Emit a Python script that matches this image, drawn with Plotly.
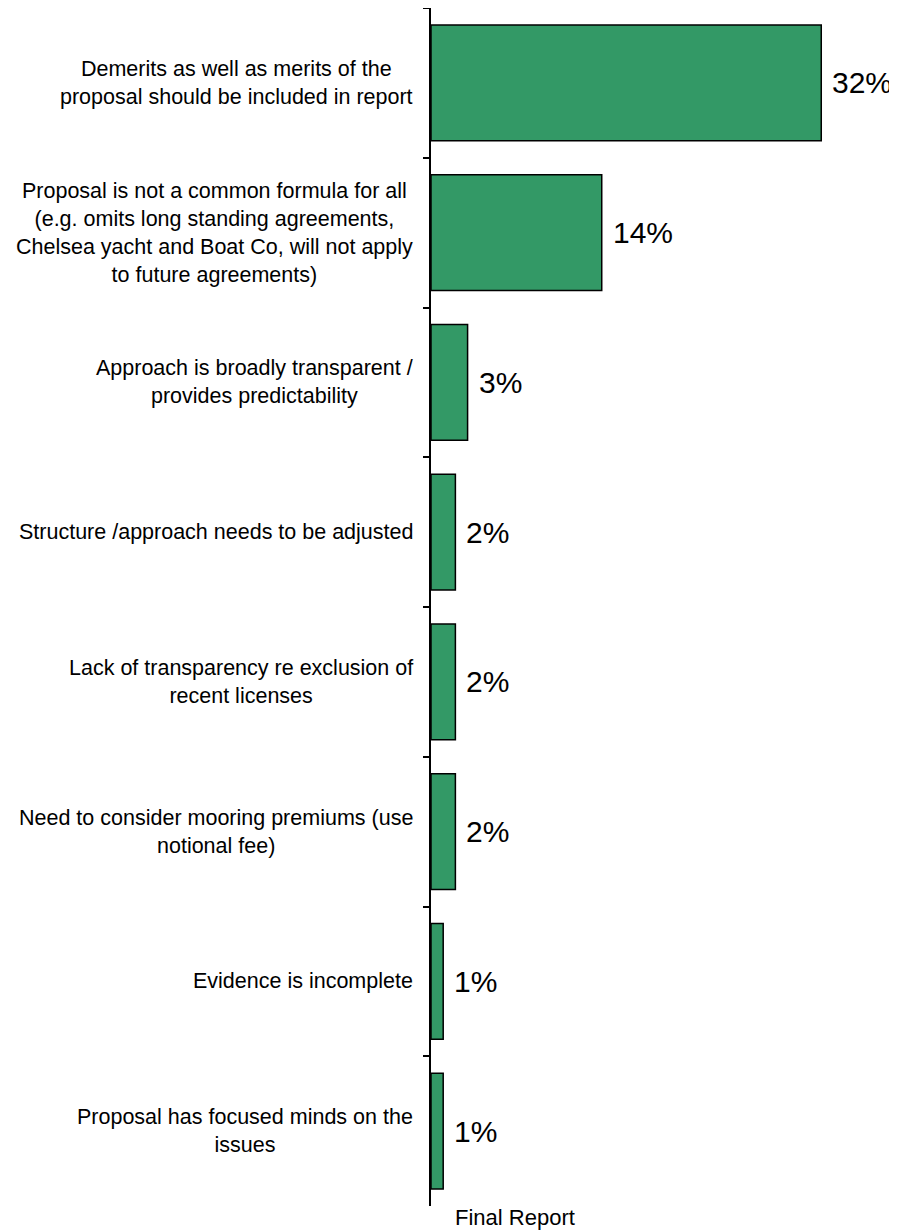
import plotly.graph_objects as go

categories = [
    "Demerits as well as merits of the<br>proposal should be included in report",
    "Proposal is not a common formula for all<br>(e.g. omits long standing agreements,<br>Chelsea yacht and Boat Co, will not apply<br>to future agreements)",
    "Approach is broadly transparent /<br>provides predictability",
    "Structure /approach needs to be adjusted",
    "Lack of transparency re exclusion of<br>recent licenses",
    "Need to consider mooring premiums (use<br>notional fee)",
    "Evidence is incomplete",
    "Proposal has focused minds on the<br>issues",
]
values = [32, 14, 3, 2, 2, 2, 1, 1]
value_labels = ["32%", "14%", "3%", "2%", "2%", "2%", "1%", "1%"]
series_name = "Final Report"

FONT = "Arial, 'Liberation Sans', sans-serif"
# page body has an 8px margin; size the figure so it fits the 897x1230 window
W, H = 889, 1222
L, R, T, B = 423, 5, 0, 24
XMAX = 37.8

fig = go.Figure()
fig.add_trace(go.Bar(
    x=values,
    y=categories,
    orientation="h",
    marker=dict(color="#339966", line=dict(color="black", width=1.5)),
    hoverinfo="skip",
    showlegend=False,
))

annotations = []
for cat in categories:
    annotations.append(dict(
        x=0, xref="paper", y=cat, yref="y",
        text=cat, showarrow=False, xanchor="right", yanchor="middle",
        align="center", xshift=-16,
        font=dict(family=FONT, size=21.5, color="black"),
    ))
for cat, v, lab in zip(categories, values, value_labels):
    annotations.append(dict(
        x=v, xref="x", y=cat, yref="y",
        text=lab, showarrow=False, xanchor="left", yanchor="middle",
        xshift=9,
        font=dict(family=FONT, size=30, color="black"),
    ))
plot_w = W - L - R
annotations.append(dict(
    x=(507 - L) / plot_w, xref="paper", y=0, yref="paper",
    text=series_name, showarrow=False, xanchor="center", yanchor="middle",
    yshift=-11,
    font=dict(family=FONT, size=22, color="black"),
))

fig.update_layout(
    width=W, height=H,
    margin=dict(l=L, r=R, t=T, b=B, pad=0),
    paper_bgcolor="white", plot_bgcolor="white",
    bargap=0.227,
    annotations=annotations,
    xaxis=dict(range=[0, XMAX], showgrid=False, zeroline=False,
               showticklabels=False, showline=False, ticks=""),
    yaxis=dict(type="category", categoryorder="array", categoryarray=categories,
               range=[len(categories) - 0.5, -0.5],
               showgrid=False, zeroline=False, showticklabels=False,
               showline=True, linecolor="black", linewidth=2,
               ticks="outside", tickson="boundaries", ticklen=6,
               tickwidth=1.5, tickcolor="black"),
)

fig.write_html("out.html")
